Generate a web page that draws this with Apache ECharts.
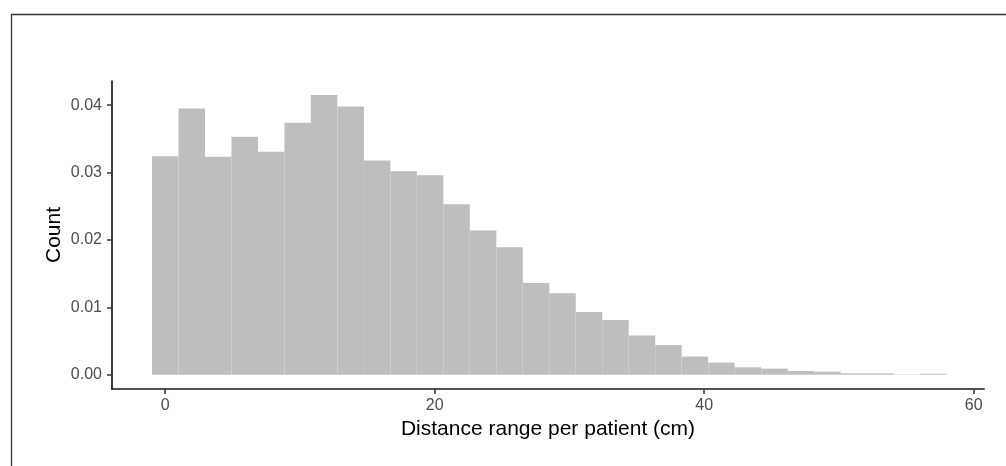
<!DOCTYPE html>
<html>
<head>
<meta charset="utf-8">
<script src="https://cdn.jsdelivr.net/npm/echarts@6/dist/echarts.min.js"></script>
<style>
html,body{margin:0;padding:0;background:#fff;}
#chart{width:1006px;height:466px;}
</style>
</head>
<body>
<div id="chart"></div>
<script>
// Histogram bins (centres, cm) and bin width
const binCenters = [0, 1.97, 3.93, 5.9, 7.86, 9.83, 11.79, 13.76, 15.72, 17.69,
  19.66, 21.62, 23.59, 25.55, 27.52, 29.48, 31.45, 33.41, 35.38, 37.34,
  39.31, 41.28, 43.24, 45.21, 47.17, 49.14, 51.1, 53.07, 55.03, 57.0];
const binWidth = 1.966;
// Bar heights (density)
const density = [0.0324, 0.0395, 0.03235, 0.0353, 0.0331, 0.0374, 0.0415, 0.0398, 0.0318, 0.0302,
  0.0296, 0.0253, 0.0214, 0.0189, 0.0136, 0.0121, 0.0093, 0.0081, 0.0058, 0.0044,
  0.0027, 0.0018, 0.0011, 0.0009, 0.00055, 0.00045, 0.0002, 0.0002, 0.00005, 0.00015];
const xTicks = [0, 20, 40, 60];
const yTicks = [0, 0.01, 0.02, 0.03, 0.04];
const xTitle = 'Distance range per patient (cm)';
const yTitle = 'Count';

const data = binCenters.map((c, i) => [c - binWidth / 2, c + binWidth / 2, density[i]]);

const chart = echarts.init(document.getElementById('chart'), null, {renderer: 'canvas'});
const font = '"Liberation Sans", Arial, Helvetica, sans-serif';
chart.setOption({
  animation: false,
  backgroundColor: '#fff',
  graphic: [{
    type: 'rect', left: 9, top: 12, silent: true,
    shape: {width: 1100, height: 600},
    style: {fill: 'none', stroke: '#333', lineWidth: 1.3}
  }],
  grid: {left: 112, right: 22, top: 81, bottom: 77, containLabel: false},
  xAxis: {
    type: 'value', min: -3.95, max: 60.76,
    name: xTitle, nameLocation: 'middle', nameGap: 30, nameMoveOverlap: false,
    nameTextStyle: {fontFamily: font, fontSize: 21, color: '#000'},
    axisLine: {show: true, onZero: false, lineStyle: {color: '#1a1a1a', width: 1.7}},
    axisTick: {show: true, length: 5, customValues: xTicks, lineStyle: {color: '#333', width: 1.5}},
    axisLabel: {customValues: xTicks, fontFamily: font, fontSize: 16, color: '#4d4d4d', margin: 9},
    splitLine: {show: false}
  },
  yAxis: {
    type: 'value', min: -0.00212, max: 0.04358,
    name: yTitle, nameLocation: 'middle', nameGap: 47, nameRotate: 90, nameMoveOverlap: false,
    nameTextStyle: {fontFamily: font, fontSize: 21, color: '#000'},
    axisLine: {show: true, onZero: false, lineStyle: {color: '#1a1a1a', width: 1.7}},
    axisTick: {show: true, length: 5, customValues: yTicks, lineStyle: {color: '#333', width: 1.5}},
    axisLabel: {customValues: yTicks, fontFamily: font, fontSize: 16, color: '#4d4d4d', margin: 10,
      formatter: v => v.toFixed(2)},
    splitLine: {show: false}
  },
  series: [{
    type: 'custom',
    data: data,
    encode: {x: [0, 1], y: 2},
    renderItem: function (params, api) {
      const p0 = api.coord([api.value(0), api.value(2)]);
      const p1 = api.coord([api.value(1), 0]);
      return {
        type: 'rect',
        shape: {x: p0[0], y: p0[1], width: p1[0] - p0[0], height: p1[1] - p0[1]},
        style: {fill: '#bebebe'}
      };
    }
  }]
});
</script>
</body>
</html>
